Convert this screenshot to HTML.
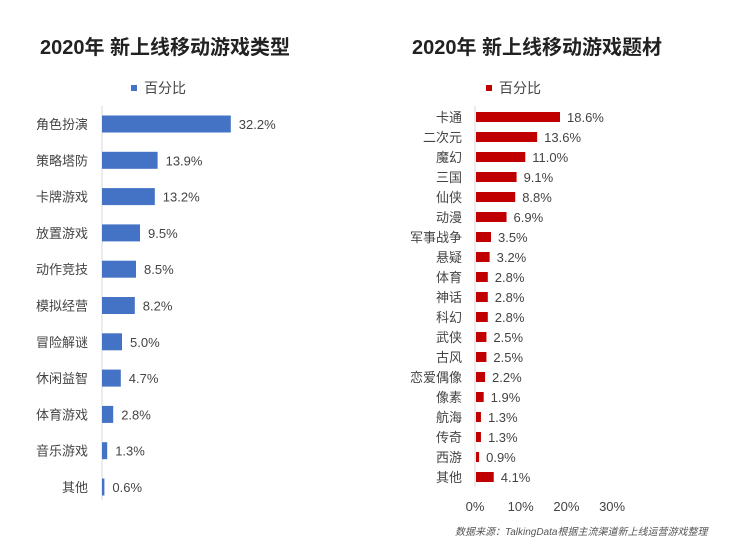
<!DOCTYPE html>
<html><head><meta charset="utf-8">
<style>
html,body{margin:0;padding:0;background:#fff;overflow:hidden;}
svg{display:block;font-family:"Liberation Sans","Noto Sans CJK SC",sans-serif;}
</style></head>
<body>
<svg id="c" width="730" height="560" viewBox="0 0 730 560">
<text x="40" y="54" font-size="20" font-weight="bold" fill="#222">2020年  新上线移动游戏类型</text>
<text x="412" y="54" font-size="20" font-weight="bold" fill="#222">2020年  新上线移动游戏题材</text>
<rect x="131" y="85" width="6" height="6" fill="#4472C4"/>
<text x="144" y="93" font-size="14" fill="#444">百分比</text>
<rect x="486" y="85" width="6" height="6" fill="#C00000"/>
<text x="499" y="93" font-size="14" fill="#444">百分比</text>
<text x="455" y="535" font-size="10" font-style="italic" fill="#555">数据来源：TalkingData根据主流渠道新上线运营游戏整理</text>
<g id="left"></g>
<g id="right"></g>
</svg>
<script>
const leftCategories=["角色扮演","策略塔防","卡牌游戏","放置游戏","动作竞技","模拟经营","冒险解谜","休闲益智","体育游戏","音乐游戏","其他"];
const leftValues=[32.2,13.9,13.2,9.5,8.5,8.2,5.0,4.7,2.8,1.3,0.6];
const rightCategories=["卡通","二次元","魔幻","三国","仙侠","动漫","军事战争","悬疑","体育","神话","科幻","武侠","古风","恋爱偶像","像素","航海","传奇","西游","其他"];
const rightValues=[18.6,13.6,11.0,9.1,8.8,6.9,3.5,3.2,2.8,2.8,2.8,2.5,2.5,2.2,1.9,1.3,1.3,0.9,4.1];
const rightTicks=[0,10,20,30];
const NS="http://www.w3.org/2000/svg";
function mk(tag,attrs,parent){const e=document.createElementNS(NS,tag);for(const k in attrs)e.setAttribute(k,attrs[k]);parent.appendChild(e);return e;}
const L=document.getElementById('left');
const lx=v=>102+v*4.0, ly=i=>124+i*36.3;
const lax=mk('line',{x1:102,x2:102,y1:106,y2:500,stroke:'#d9d9d9','stroke-width':1},L);


leftCategories.forEach((c,i)=>{
  const y=ly(i),v=leftValues[i];
  const t=mk('text',{x:88,y:y+5,'font-size':13,fill:'#444','text-anchor':'end'},L);t.textContent=c;
  
  
  const r=mk('rect',{x:102,y:y-8.5,width:lx(v)-102,height:17,fill:'#4472C4'},L);
  
  
  const vt=mk('text',{x:lx(v)+8,y:y+5,'font-size':13,fill:'#444'},L);vt.textContent=v.toFixed(1)+'%';
  
  
});
const R=document.getElementById('right');
const rx=v=>475+v*4.57, ry=i=>117+i*20;
const rax=mk('line',{x1:475,x2:475,y1:106,y2:487,stroke:'#d9d9d9','stroke-width':1},R);


rightCategories.forEach((c,i)=>{
  const y=ry(i),v=rightValues[i];
  const t=mk('text',{x:462,y:y+5,'font-size':13,fill:'#444','text-anchor':'end'},R);t.textContent=c;
  
  
  const r=mk('rect',{x:476,y:y-5,width:rx(v)-476,height:10,fill:'#C00000'},R);
  
  
  const vt=mk('text',{x:rx(v)+7,y:y+5,'font-size':13,fill:'#444'},R);vt.textContent=v.toFixed(1)+'%';
  
  
});
rightTicks.forEach(v=>{
  const t=mk('text',{x:rx(v),y:511,'font-size':13,fill:'#444','text-anchor':'middle'},R);t.textContent=v+'%';
  
  
});
</script>
</body></html>
